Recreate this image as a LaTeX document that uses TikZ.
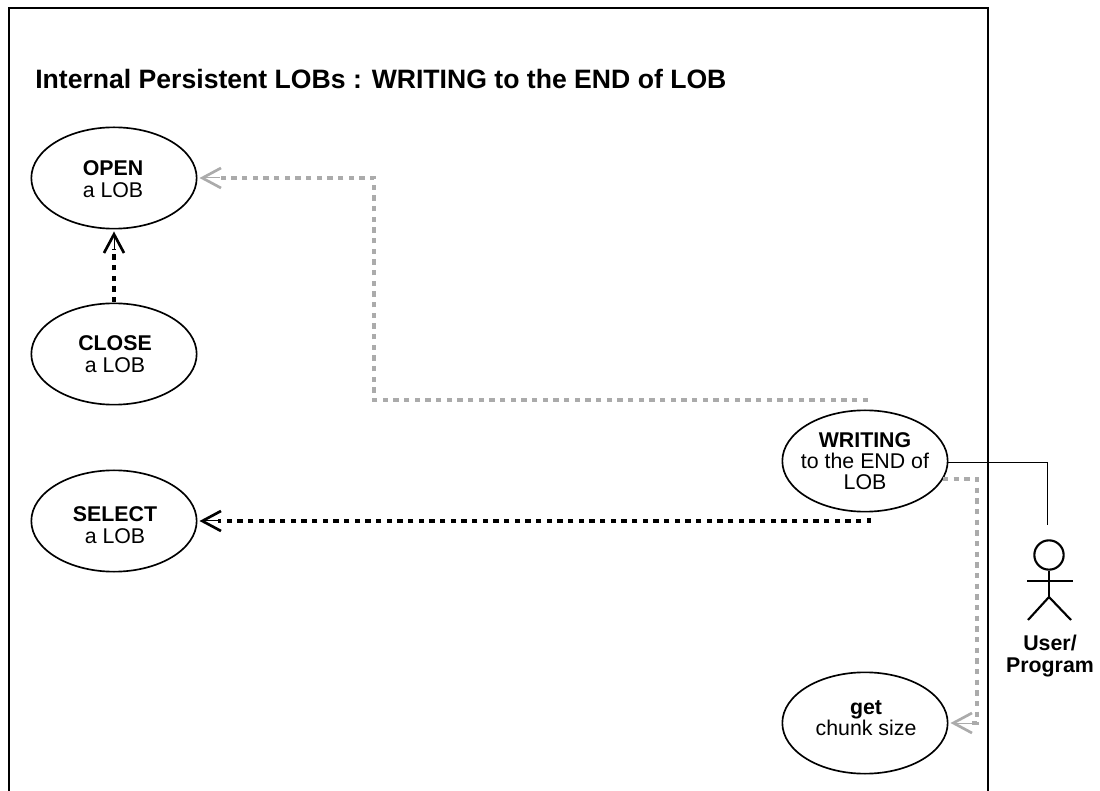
\documentclass[tikz,border=0pt]{standalone}
\usepackage{fontspec}
\setmainfont{Liberation Sans}
\usepackage{tikz}
\usetikzlibrary{arrows.meta,positioning,calc,shapes.geometric}
\tikzstyle{usecase}=[draw,ellipse,line width=1.25pt,minimum width=124pt,minimum height=76pt,inner sep=0pt]
\tikzstyle{casetext}=[align=center,inner sep=0pt,font=\fontsize{16}{16}\selectfont]
\tikzstyle{greydep}=[draw=black!33,line width=3.1pt,dash pattern=on 4.1pt off 3.9pt]
\tikzstyle{blackdep}=[greydep,draw=black]
\tikzstyle{greytip}=[draw=black!33,line width=0pt,shorten >=1.5pt,
	-{Straight Barb[length=14pt,width=15pt,line width=2pt]}]
\tikzstyle{blacktip}=[greytip,draw=black]
\tikzstyle{stickman}=[line width=1.6pt]

\begin{document}
\begin{tikzpicture}[x=0.75pt,y=-0.75pt]
\useasboundingbox (0,0) rectangle (1100,791);
% frame
\draw [line width=2.2pt] (9,795) -- (9,8) -- (988,8) -- (988,795);
\node [anchor=west,inner sep=0pt,font=\fontsize{19.95}{20}\selectfont\bfseries] (title) at (35,79) {Internal Persistent LOBs : WRITING to the END of LOB};
% use cases
\node [usecase] (open) at (114,178) {};
\node [casetext] (opentext) at (113,179) {\textbf{OPEN}\\a LOB};
\node [usecase] (close) at (114,354) {};
\node [casetext] (closetext) at (115,354) {\textbf{CLOSE}\\a LOB};
\node [usecase] (select) at (114,521) {};
\node [casetext] (selecttext) at (115,525) {\textbf{SELECT}\\a LOB};
\node [usecase] (writing) at (865,461) {};
\node [casetext] (writingtext) at (865,461) {\textbf{WRITING}\\to the END of\\LOB};
\node [usecase] (get) at (865,723) {};
\node [casetext] (gettext) at (866,718) {\textbf{get}\\chunk size};
% actor
\node [circle,draw,stickman,minimum size=22pt,inner sep=0pt] (head) at (1049,555) {};
\coordinate (neck) at (1049,597);
\draw [stickman] (head) -- (neck);
\draw [stickman] (1027,581) -- (1073,581);
\draw [stickman] (1028,620) -- (neck) -- (1071,620);
\node [casetext,font=\fontsize{16}{16}\selectfont\bfseries] (user) at (1050,656) {User/\\Program};
% connectors
\coordinate (wrtop) at (868,400);
\coordinate (bendopen) at (374,400);
\coordinate (openin) at (219,178);
\coordinate (closein) at (114,249);
\coordinate (wrlow) at (869,518);
\coordinate (selectin) at (218,521);
\coordinate (wrside) at (943,479);
\coordinate (bendget) at (977,479);
\coordinate (getin) at (971,723);
\coordinate (wrright) at (948,463);
\coordinate (bendactor) at (1047,463);
\coordinate (actortop) at (1047,525);
\draw [greydep] (wrtop) -- (bendopen) |- (openin);
\draw [greytip] (openin) -- (open.east);
\draw [blackdep] (close.north) -- (closein);
\draw [blacktip] (closein) -- (open.south);
\draw [blackdep] (wrlow) |- (selectin);
\draw [blacktip] (selectin) -- (select.east);
\draw [greydep] (wrside) -- (bendget) |- (getin);
\draw [greytip] (getin) -- (get.east);
\draw [line width=0.75pt] (wrright) -- (bendactor) -- (actortop);
\end{tikzpicture}
\end{document}
